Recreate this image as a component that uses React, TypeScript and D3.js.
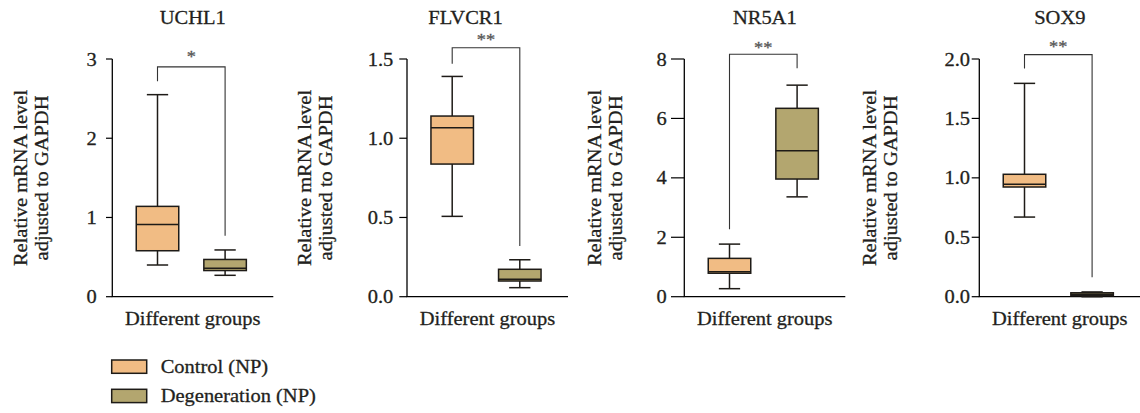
import React from "react";
import * as d3 from "d3";

// ---------- data ----------
const genes = ["UCHL1", "FLVCR1", "NR5A1", "SOX9"];
const groups = ["Control (NP)", "Degeneration (NP)"];
const yMaxes = [3, 1.5, 8, 2];
const tickValues = [
  [0, 1, 2, 3],
  [0, 0.5, 1.0, 1.5],
  [0, 2, 4, 6, 8],
  [0, 0.5, 1.0, 1.5, 2.0],
];
const tickFormats = ["d", ".1f", "d", ".1f"];
// [min, q1, median, q3, max]
const controlStats = [
  [0.4, 0.58, 0.91, 1.14, 2.55],
  [0.507, 0.837, 1.066, 1.14, 1.39],
  [0.27, 0.79, 0.84, 1.29, 1.77],
  [0.67, 0.923, 0.946, 1.03, 1.795],
];
const degenerationStats = [
  [0.27, 0.33, 0.36, 0.47, 0.59],
  [0.057, 0.099, 0.11, 0.173, 0.233],
  [3.36, 3.96, 4.91, 6.34, 7.12],
  [0.0, 0.008, 0.02, 0.033, 0.04],
];
// [bracket top, left leg end, right leg end]
const brackets = [
  [2.9, 2.72, 0.77],
  [1.571, 1.47, 0.32],
  [8.16, 2.27, 7.69],
  [2.037, 1.92, 0.163],
];
const significance = ["*", "**", "**", "**"];
const xAxisTitle = "Different groups";
const yAxisTitle = ["Relative mRNA level", "adjusted to GAPDH"];

// ---------- layout ----------
const W = 1140;
const H = 413;
const panelLeft = [112.3, 407, 684.3, 979.3];
const panelWidth = 161;
const yTop = 59;
const yBottom = 296.7;
const tickLen = [6.3, 7.7, 13.3, 7.6];
const tickLabelOffset = [15.6, 13.7, 17.6, 9.3];
const yTitleOffset = [85.6, 96.3, 83.6, 103.6];
const titleDx = [0, -22, 0, 0];
const starDy = [-5.4, -2.7, -1, -2.7];
const colors = ["#F1BC84", "#B3A66F"];
const boxStroke = "#1e1b17";
const textColor = "#231f20";
const FONT = "'Liberation Serif', 'Times New Roman', serif";
const FS = 19.5;
const SX = 1.05;

function T({ x, y, anchor = "start", rotate = 0, children, size = FS, fill = textColor }: any) {
  return (
    <g transform={`translate(${x},${y}) rotate(${rotate}) scale(${SX},1)`}>
      <text
        x={0}
        y={0}
        textAnchor={anchor}
        fontFamily={FONT}
        fontSize={size}
        fill={fill}
        stroke={fill}
        strokeWidth={0.3}
      >
        {children}
      </text>
    </g>
  );
}

function Panel({ i }: { i: number }) {
  const left = panelLeft[i];
  const right = left + panelWidth;
  const y = d3.scaleLinear().domain([0, yMaxes[i]]).range([yBottom, yTop]);
  const x = d3.scalePoint<string>().domain(groups).range([left + 45.2, left + 112.8]);
  const fmt = d3.format(tickFormats[i]);
  const boxW = 42.5;
  const capW = 21.3;
  const stats = [controlStats[i], degenerationStats[i]];
  const [bTop, bL, bR] = brackets[i];
  const xl = x(groups[0])!;
  const xr = x(groups[1])!;
  const midX = (left + right) / 2;
  return (
    <g>
      <T x={midX + titleDx[i]} y={24} anchor="middle">{genes[i]}</T>
      <line x1={left} x2={left} y1={yTop} y2={yBottom} stroke="#000" strokeWidth={1.3} />
      {tickValues[i].map((t) => (
        <g key={t}>
          <line x1={left - tickLen[i]} x2={left} y1={y(t)} y2={y(t)} stroke="#000" strokeWidth={1.2} />
          <T x={left - tickLabelOffset[i]} y={y(t) + 6.5} anchor="end">{fmt(t)}</T>
        </g>
      ))}
      <line x1={left - 0.6} x2={right} y1={yBottom} y2={yBottom} stroke="#000" strokeWidth={1.3} />
      <T x={midX} y={325} anchor="middle">{xAxisTitle}</T>
      <T x={left - yTitleOffset[i]} y={178} anchor="middle" rotate={-90}>{yAxisTitle[0]}</T>
      <T x={left - yTitleOffset[i] + 21.5} y={178} anchor="middle" rotate={-90}>{yAxisTitle[1]}</T>
      {stats.map((s, g) => {
        const cx = x(groups[g])!;
        const [mn, q1, md, q3, mx] = s;
        return (
          <g key={g}>
            <line x1={cx} x2={cx} y1={y(mx)} y2={y(q3)} stroke={boxStroke} strokeWidth={1.5} />
            <line x1={cx} x2={cx} y1={y(q1)} y2={y(mn)} stroke={boxStroke} strokeWidth={1.5} />
            <line x1={cx - capW / 2} x2={cx + capW / 2} y1={y(mx)} y2={y(mx)} stroke={boxStroke} strokeWidth={1.5} />
            <line x1={cx - capW / 2} x2={cx + capW / 2} y1={y(mn)} y2={y(mn)} stroke={boxStroke} strokeWidth={1.5} />
            <rect
              x={cx - boxW / 2}
              y={y(q3)}
              width={boxW}
              height={y(q1) - y(q3)}
              fill={colors[g]}
              stroke={boxStroke}
              strokeWidth={1.5}
            />
            <line x1={cx - boxW / 2} x2={cx + boxW / 2} y1={y(md)} y2={y(md)} stroke={boxStroke} strokeWidth={1.5} />
          </g>
        );
      })}
      <path
        d={`M${xl},${y(bL)}V${y(bTop)}H${xr}V${y(bR)}`}
        fill="none"
        stroke="#333"
        strokeWidth={1.1}
      />
      <T x={(xl + xr) / 2} y={y(bTop) + starDy[i]} anchor="middle" fill="#555" size={17.5}>{significance[i]}</T>
    </g>
  );
}

export default function App() {
  return (
    <svg
      width={W}
      height={H}
      viewBox={`0 0 ${W} ${H}`}
      style={{ position: "absolute", left: 0, top: 0, background: "#fff" }}
    >
      <rect x={0} y={0} width={W} height={H} fill="#fff" />
      {genes.map((_, i) => (
        <Panel key={i} i={i} />
      ))}
      {groups.map((g, k) => (
        <g key={g}>
          <rect
            x={111.7}
            y={360 + k * 29.3}
            width={35}
            height={13.3}
            fill={colors[k]}
            stroke={boxStroke}
            strokeWidth={1.5}
          />
          <T x={160.7} y={372.5 + k * 29.3}>{g}</T>
        </g>
      ))}
    </svg>
  );
}
